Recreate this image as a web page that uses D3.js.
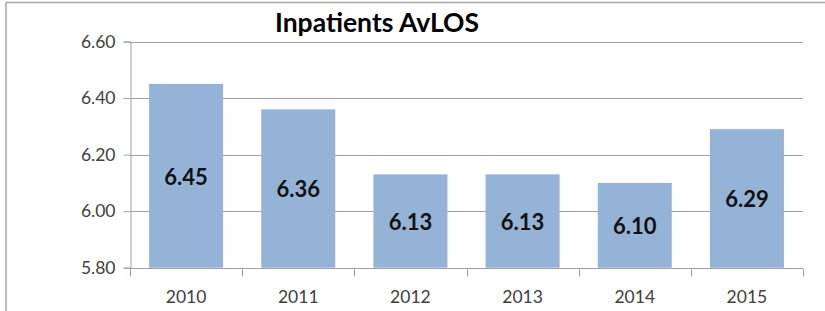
<!DOCTYPE html>
<html>
<head>
<meta charset="utf-8">
<script src="https://cdn.jsdelivr.net/npm/d3@7"></script>
<style>
  body { margin: 0; background: #fff; }
  svg { display: block; font-family: Lato, "Open Sans", sans-serif; }
</style>
</head>
<body>
<script>
const years = ["2010", "2011", "2012", "2013", "2014", "2015"];
const avlos = [6.45, 6.36, 6.13, 6.13, 6.10, 6.29];
const yTicks = [5.80, 6.00, 6.20, 6.40, 6.60];
const title = "Inpatients AvLOS";

const width = 825, height = 311;
const margin = {top: 41.5, right: 22, bottom: 43.3, left: 130};

const svg = d3.select("body").append("svg")
    .attr("width", width)
    .attr("height", height);

// outer chart frame (only top and left show)
svg.append("line").attr("x1", 6).attr("x2", width).attr("y1", 2.5).attr("y2", 2.5)
    .attr("stroke", "#a6a6a6").attr("stroke-width", 1.5);
svg.append("line").attr("x1", 6).attr("x2", 6).attr("y1", 2.5).attr("y2", height)
    .attr("stroke", "#a6a6a6").attr("stroke-width", 1.5);

const x = d3.scaleBand()
    .domain(years)
    .range([margin.left, width - margin.right])
    .paddingInner(0.34)
    .paddingOuter(0.17);

const y = d3.scaleLinear()
    .domain([5.8, 6.6])
    .range([height - margin.bottom, margin.top]);

// gridlines
svg.append("g")
  .selectAll("line")
  .data(yTicks.slice(1))
  .join("line")
    .attr("x1", margin.left)
    .attr("x2", width - margin.right)
    .attr("y1", d => Math.round(y(d)) + 0.5)
    .attr("y2", d => Math.round(y(d)) + 0.5)
    .attr("stroke", "#a0a0a0");

// y axis
const yAxis = svg.append("g")
    .attr("transform", `translate(${margin.left + 0.5},0)`)
    .call(d3.axisLeft(y).tickValues(yTicks).tickFormat(d3.format(".2f")).tickSize(7).tickPadding(8));
yAxis.select(".domain").attr("stroke", "#a0a0a0");
yAxis.selectAll(".tick line").attr("stroke", "#a0a0a0");
yAxis.selectAll("text")
    .attr("fill", "#404040")
    .style("font-size", "17.5px")
    .style("font-family", "Lato, sans-serif");

// bars
svg.append("g")
  .selectAll("rect")
  .data(avlos)
  .join("rect")
    .attr("x", (d, i) => x(years[i]))
    .attr("width", x.bandwidth())
    .attr("y", d => y(d))
    .attr("height", d => y(5.8) - y(d))
    .attr("fill", "#95b3d7");

// x axis with ticks at category boundaries
const xBase = Math.round(y(5.8)) + 0.5;
svg.append("line")
    .attr("x1", margin.left).attr("x2", width - margin.right)
    .attr("y1", xBase).attr("y2", xBase)
    .attr("stroke", "#a0a0a0");
const step = x.step();
svg.append("g")
  .selectAll("line")
  .data(d3.range(years.length + 1))
  .join("line")
    .attr("x1", i => Math.round(margin.left + i * step) + 0.5)
    .attr("x2", i => Math.round(margin.left + i * step) + 0.5)
    .attr("y1", xBase)
    .attr("y2", xBase + 8)
    .attr("stroke", "#a0a0a0");
svg.append("g")
  .selectAll("text")
  .data(years)
  .join("text")
    .attr("x", d => x(d) + x.bandwidth() / 2)
    .attr("y", 297)
    .attr("dy", "0.35em")
    .attr("text-anchor", "middle")
    .attr("fill", "#404040")
    .style("font-size", "17.5px")
    .text(d => d);

// value labels in the middle of each bar
svg.append("g")
  .selectAll("text")
  .data(avlos)
  .join("text")
    .attr("x", (d, i) => x(years[i]) + x.bandwidth() / 2)
    .attr("y", d => (y(d) + y(5.8)) / 2 + 1)
    .attr("dy", "0.35em")
    .attr("text-anchor", "middle")
    .attr("fill", "#111")
    .style("font-size", "22px")
    .style("font-weight", "bold")
    .text(d => d.toFixed(2));

svg.append("text")
    .attr("x", 377)
    .attr("y", 23)
    .attr("dy", "0.35em")
    .attr("text-anchor", "middle")
    .attr("fill", "#000")
    .style("font-size", "26.5px")
    .style("font-weight", "bold")
    .text(title);
</script>
</body>
</html>
